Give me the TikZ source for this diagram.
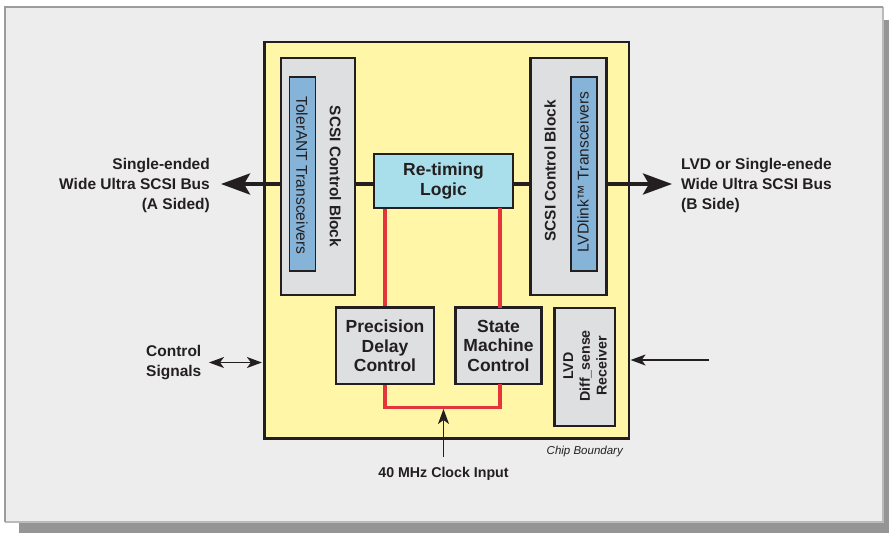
\documentclass[tikz,border=0pt]{standalone}
\usepackage{fontspec}
\setmainfont{Liberation Sans}
\usetikzlibrary{arrows.meta}
\definecolor{panel}{HTML}{EDEDED}
\definecolor{panelline}{HTML}{9C9C9C}
\definecolor{shadow}{HTML}{959595}
\definecolor{chip}{HTML}{FFF6A8}
\definecolor{boxgray}{HTML}{DEDFE1}
\definecolor{tblue}{HTML}{86B3D8}
\definecolor{rblue}{HTML}{A9DFEB}
\definecolor{wire}{HTML}{E4343C}
\definecolor{ink}{HTML}{231F20}
\begin{document}
\begin{tikzpicture}[x=1pt,y=-1pt,
  every node/.style={text=ink, inner sep=0pt},
  blk/.style={draw=ink, line width=2.2pt, fill=boxgray, rectangle},
  chipbox/.style={draw=ink, line width=2.2pt, fill=chip, rectangle},
  xcvr/.style={draw=ink, line width=1.5pt, fill=tblue, rectangle},
  retime/.style={draw=ink, line width=2.2pt, fill=rblue, rectangle},
  bustxt/.style={font=\bfseries\fontsize{15.5}{20}\selectfont},
  boxtxt/.style={font=\bfseries\fontsize{17.5}{19.5}\selectfont, align=center},
  vtxt/.style={font=\bfseries\fontsize{15.4}{18}\selectfont},
  vthin/.style={font=\fontsize{15.6}{18}\selectfont},
  bus/.style={draw=ink, line width=4pt},
  busarrow/.style={draw=ink, line width=4pt, -{Stealth[length=29pt, width=21pt, inset=6pt]}},
  redwire/.style={draw=wire, line width=3.5pt},
  thinarrow/.style={draw=ink, line width=1.3pt, -{Stealth[length=15pt, width=11pt, inset=4pt]}},
  dblarrow/.style={draw=ink, line width=1.3pt, {Stealth[length=15pt, width=11pt, inset=4pt]}-{Stealth[length=15pt, width=11pt, inset=4pt]}}
]
\useasboundingbox (0,0) rectangle (889,533);
% background panel with shadow
\fill[shadow] (19,20) rectangle (889,533);
\fill[panel] (5,7) rectangle (883,522);
\draw[panelline!70, line width=1.2pt] (883,7) -- (883,522) -- (5,522);
\draw[panelline, line width=2pt] (5,522) -- (5,7) -- (883,7);

% chip boundary
\node[chipbox, minimum width=364.5pt, minimum height=396.5pt] (chip) at (446.75,240.25) {};

% SCSI control blocks
\node[blk, minimum width=74pt, minimum height=237pt] (scsiA) at (318,176.5) {};
\node[xcvr, minimum width=26pt, minimum height=194pt] (tolerant) at (302.25,174) {};
\node[vthin, rotate=-90] (tolerantT) at (302,175.5) {TolerANT Transceivers};
\node[vtxt, rotate=-90] (scsiAT) at (335.5,176.5) {SCSI Control Block};

\node[blk, minimum width=76pt, minimum height=237pt] (scsiB) at (568.5,176.5) {};
\node[xcvr, minimum width=26pt, minimum height=194pt] (lvdlink) at (584,174) {};
\node[vthin, rotate=90] (lvdlinkT) at (583,172) {LVDlink™ Transceivers};
\node[vtxt, rotate=90] (scsiBT) at (550,171) {SCSI Control Block};

% retiming logic
\node[retime, minimum width=139pt, minimum height=54pt, boxtxt] (retiming) at (443.5,181) {Re-timing\\Logic};

% lower blocks
\node[blk, minimum width=98pt, minimum height=76.5pt, boxtxt] (precision) at (385,345.75) {Precision\\Delay\\Control};
\node[blk, minimum width=86pt, minimum height=76.5pt, boxtxt] (state) at (498.5,345.75) {State\\Machine\\Control};
\node[blk, minimum width=60.5pt, minimum height=118pt] (lvd) at (584.75,367) {};
\node[rotate=90, font=\bfseries\fontsize{14.2}{16.7}\selectfont, align=center] (lvdT) at (585,366) {LVD\\Diff\_sense\\Receiver};

% red clock wiring
\draw[redwire] (retiming.south -| precision) -- (precision.north);
\draw[redwire] (500,208) -- (500,307.5);
\draw[redwire] (precision.south) -- (385,407.5) -- (500,407.5) -- (500,384);
\coordinate (clkjoin) at (443.5,409);
\coordinate (clkin) at (443.5,457);
\draw[thinarrow] (clkin) -- (clkjoin);
\node[font=\bfseries\fontsize{14.2}{17}\selectfont] (clktxt) at (443.5,474) {40 MHz Clock Input};

% buses
\coordinate (busA) at (221,184);
\coordinate (busB) at (672,184);
\draw[bus] (scsiA.east |- 0,184) -- (retiming.west |- 0,184);
\draw[bus] (retiming.east |- 0,184) -- (scsiB.west |- 0,184);
\draw[busarrow] (scsiA.west |- 0,184) -- (busA);
\draw[busarrow] (scsiB.east |- 0,184) -- (busB);

\node[bustxt, align=right, anchor=east] (busAT) at (210,185) {Single-ended\\Wide Ultra SCSI Bus\\(A Sided)};
\node[bustxt, align=left, anchor=west] (busBT) at (681,185) {LVD or Single-enede\\Wide Ultra SCSI Bus\\(B Side)};

% control signals
\node[bustxt, align=left, anchor=west, font=\bfseries\fontsize{15.5}{19.6}\selectfont] (ctrlT) at (146,362.5) {Control\\Signals};
\coordinate (ctrl) at (209,362.5);
\draw[dblarrow, shorten >=1.5pt] (ctrl) -- (ctrl -| chip.west);

% LVD sense input
\coordinate (lvdin) at (709,360);
\draw[thinarrow, shorten >=0.5pt] (lvdin) -- (lvdin -| chip.east);

% chip boundary label
\node[anchor=east, font=\itshape\fontsize{11.5}{13}\selectfont] (chiplabel) at (623,452) {Chip Boundary};
\end{tikzpicture}
\end{document}
